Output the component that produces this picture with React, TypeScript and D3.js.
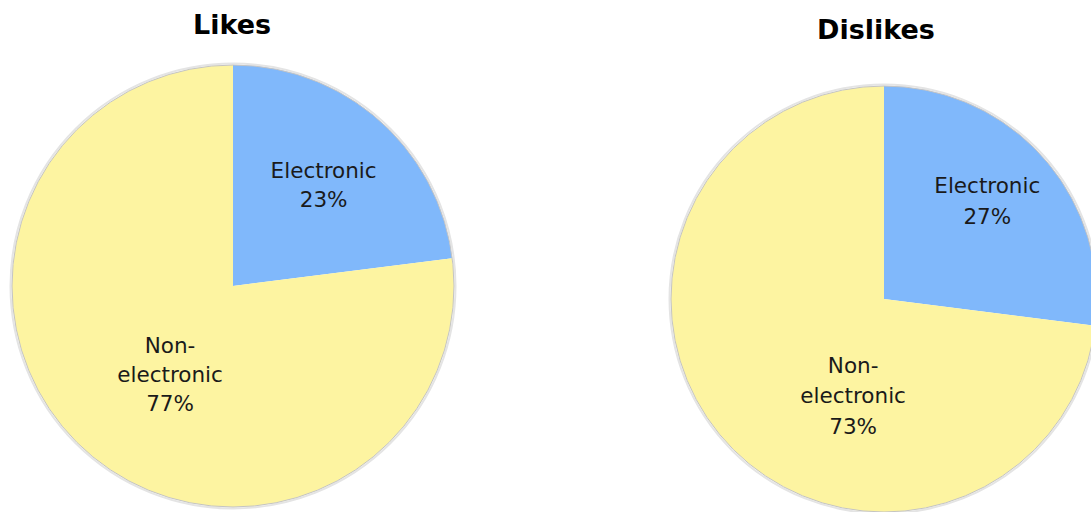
import React from "react";
import * as d3 from "d3";

const categories = ["Electronic", "Non-electronic"];
const likesValues = [23, 77];
const dislikesValues = [27, 73];
const chartTitles = ["Likes", "Dislikes"];

const colors = ["#80b8fb", "#fdf4a1"];

const W = 1091;
const H = 512;

type PieSpec = {
  title: string;
  values: number[];
  cx: number;
  cy: number;
  r: number;
  titleX: number;
  titleY: number;
  lh: number;
  labelOffsets: [number, number][];
};

const pies: PieSpec[] = [
  {
    title: chartTitles[0],
    values: likesValues,
    cx: 233,
    cy: 286,
    r: 221,
    titleX: 232,
    titleY: 34,
    lh: 29,
    labelOffsets: [
      [0.41, -0.455],
      [-0.285, 0.4],
    ],
  },
  {
    title: chartTitles[1],
    values: dislikesValues,
    cx: 884,
    cy: 299,
    r: 213,
    titleX: 876,
    titleY: 39,
    lh: 30.5,
    labelOffsets: [
      [0.485, -0.46],
      [-0.145, 0.455],
    ],
  },
];

function labelLines(cat: string, v: number): string[] {
  if (cat === "Non-electronic") return ["Non-", "electronic", `${v}%`];
  return [cat, `${v}%`];
}

function Pie({ spec }: { spec: PieSpec }) {
  const pie = d3
    .pie<number>()
    .sort(null)
    .value((d) => d);
  const arcs = pie(spec.values);
  const arcGen = d3.arc<d3.PieArcDatum<number>>().innerRadius(0).outerRadius(spec.r);
  const lh = spec.lh;
  return (
    <g>
      <text
        x={spec.titleX}
        y={spec.titleY}
        textAnchor="middle"
        fontFamily="DejaVu Sans, Verdana, sans-serif"
        fontWeight="bold"
        fontSize={27}
        fill="#000"
      >
        {spec.title}
      </text>
      <g transform={`translate(${spec.cx},${spec.cy})`}>
        <circle r={spec.r + 1.5} fill="none" stroke="#e4e4e4" strokeWidth={2} />
        {arcs.map((a, i) => (
          <path key={i} d={arcGen(a) || ""} fill={colors[i]} />
        ))}
        <circle r={spec.r} fill="none" stroke="#c4c4c4" strokeWidth={1} />
        {arcs.map((a, i) => {
          const lines = labelLines(categories[i], spec.values[i]);
          const [ox, oy] = spec.labelOffsets[i];
          const x = ox * spec.r;
          const y = oy * spec.r;
          const y0 = y - ((lines.length - 1) * lh) / 2;
          return (
            <text
              key={i}
              textAnchor="middle"
              fontFamily="DejaVu Sans, Verdana, sans-serif"
              fontSize={21.5}
              fill="#1a1a1a"
            >
              {lines.map((t, j) => (
                <tspan key={j} x={x} y={y0 + j * lh} dy="0.35em">
                  {t}
                </tspan>
              ))}
            </text>
          );
        })}
      </g>
    </g>
  );
}

export default function App() {
  return (
    <svg
      width={W}
      height={H}
      style={{ position: "absolute", left: 0, top: 0, background: "#fff" }}
    >
      {pies.map((p, i) => (
        <Pie key={i} spec={p} />
      ))}
    </svg>
  );
}
